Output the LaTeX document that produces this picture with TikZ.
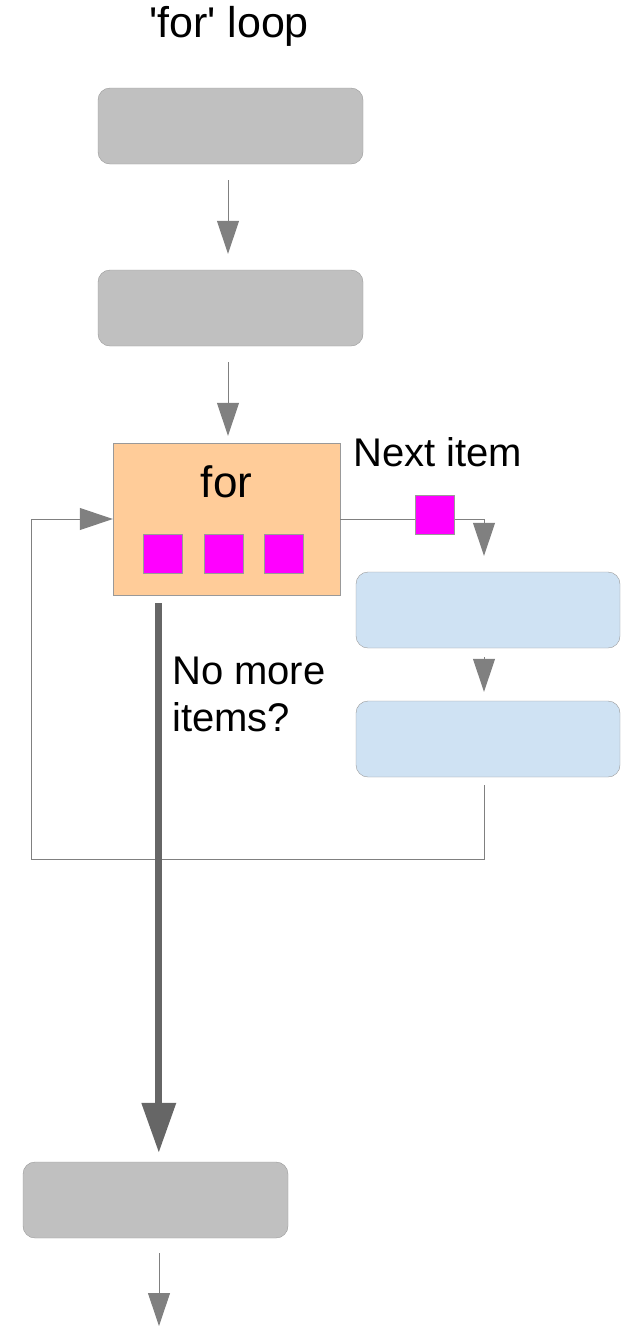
\documentclass[tikz,border=0pt]{standalone}
\usepackage{fontspec}
\setmainfont{Liberation Sans}
\usetikzlibrary{arrows.meta,calc}
\definecolor{stepgray}{HTML}{C0C0C0}
\definecolor{edgegray}{HTML}{999999}
\definecolor{arrowgray}{HTML}{808080}
\definecolor{darkarrow}{HTML}{666666}
\definecolor{peach}{HTML}{FFCC99}
\definecolor{paleblue}{HTML}{CFE2F3}
\definecolor{itemcol}{HTML}{FF00FF}
\begin{document}
\begin{tikzpicture}
            [x=1pt,y=-1pt,
             Stmt/.style={rectangle,rounded corners=12pt,draw=edgegray,fill=stepgray,minimum width=265pt,minimum height=76pt,inner sep=0pt},
             Body/.style={Stmt,fill=paleblue,minimum width=264pt},
             Loop/.style={rectangle,draw=edgegray,fill=peach,minimum width=227pt,minimum height=152pt,inner sep=0pt},
             Item/.style={rectangle,draw=edgegray,fill=itemcol,minimum size=39pt,inner sep=0pt},
             Flow/.style={draw=arrowgray,line width=1pt,-{Triangle[width=22pt,length=33pt]}},
             Exit/.style={draw=darkarrow,line width=7pt,-{Triangle[width=33pt,length=50pt]}},
             Label/.style={font=\fontsize{40}{47}\selectfont,inner sep=0pt}];
            \useasboundingbox (0,0) rectangle (630,1326);
            \node[Label,font=\fontsize{43}{48}\selectfont,anchor=base] (title) at (229,37) {\textquotesingle for\textquotesingle\ loop};
            \node[Stmt] (s1) at (230.5,126) {};
            \node[Stmt] (s2) at (230.5,308) {};
            \node[Loop] (loop) at (226.5,519) {};
            \node[Label,font=\fontsize{44}{50}\selectfont,anchor=base] (kw) at (226.5,497) {for};
            \node[Item] (i1) at (163,554) {};
            \node[Item] (i2) at (223.5,554) {};
            \node[Item] (i3) at (284,554) {};
            \node[Body] (b1) at (488,610) {};
            \node[Body] (b2) at (488,739) {};
            \node[Stmt] (s3) at (155.5,1200) {};
            \coordinate (back) at (31,859);
            \coordinate (out) at (159,1326);
            \draw [Flow,shorten <=16pt,shorten >=16pt] ([xshift=-2.5pt]s1.south) to ([xshift=-2.5pt]s2.north);
            \draw [Flow,shorten <=16pt,shorten >=7pt] ([xshift=-2.5pt]s2.south) to ([xshift=-2.5pt]s2.south |- loop.north);
            \draw [Flow,shorten >=16pt] (loop.east) -| ([xshift=-4pt]b1.north);
            \draw [Flow,shorten <=9pt,shorten >=9pt] ([xshift=-4pt]b1.south) to ([xshift=-4pt]b2.north);
            \draw [Flow,shorten <=8pt] ([xshift=-4pt]b2.south) |- (back) |- (loop.west);
            \draw [Exit,shorten <=8pt,shorten >=9pt] ([xshift=46pt]loop.south west) to ([xshift=46pt]loop.south west |- s3.north);
            \draw [Flow,shorten <=15pt] ([xshift=3.5pt]s3.south) to (out);
            \node[Item] (next) at (435,515) {};
            \node[Label,anchor=base west] (nextlbl) at (353,466) {Next item};
            \node[Label,anchor=base west,align=left] (donelbl) at (172,731) {No more\\items?};
\end{tikzpicture}
\end{document}
